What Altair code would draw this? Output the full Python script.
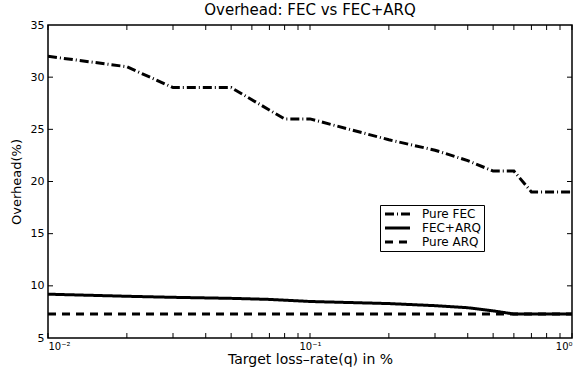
import altair as alt
import pandas as pd

# ---- data ----
q_fec = [0.01, 0.02, 0.03, 0.05, 0.08, 0.1, 0.2, 0.3, 0.4, 0.5, 0.6, 0.7, 1.0]
pure_fec = [32, 31, 29, 29, 26, 26, 24, 23, 22, 21, 21, 19, 19]

q_fa = [0.01, 0.02, 0.03, 0.05, 0.07, 0.1, 0.2, 0.3, 0.4, 0.5, 0.6, 0.7, 1.0]
fec_arq = [9.2, 9.0, 8.9, 8.8, 8.7, 8.5, 8.3, 8.1, 7.9, 7.6, 7.3, 7.3, 7.3]

q_arq = [0.01, 0.1, 1.0]
pure_arq = [7.3, 7.3, 7.3]

series_names = ["Pure FEC", "FEC+ARQ", "Pure ARQ"]

x_major = [0.01, 0.1, 1.0]
x_minor = [0.02, 0.03, 0.04, 0.05, 0.06, 0.07, 0.08, 0.09,
           0.2, 0.3, 0.4, 0.5, 0.6, 0.7, 0.8, 0.9]
y_ticks = [5, 10, 15, 20, 25, 30, 35]
y_inner = [10, 15, 20, 25, 30]

W, H = 524, 313
FONT = "DejaVu Sans"

rows = []
for q, v in zip(q_fec, pure_fec):
    rows.append({"q": q, "v": v, "s": "Pure FEC"})
for q, v in zip(q_fa, fec_arq):
    rows.append({"q": q, "v": v, "s": "FEC+ARQ"})
for q, v in zip(q_arq, pure_arq):
    rows.append({"q": q, "v": v, "s": "Pure ARQ"})
df = pd.DataFrame(rows)

xscale = alt.Scale(type="log", domain=[0.01, 1.0], nice=False)
yscale = alt.Scale(domain=[5, 35], nice=False, zero=False)

xaxis = alt.Axis(values=x_major, ticks=False, domain=False, grid=False,
                 labelExpr="datum.value == 0.01 ? '10⁻²' : datum.value == 0.1 ? '10⁻¹' : '10⁰'",
                 labelPadding=3, labelFontSize=10, labelColor="black", labelFont=FONT,
                 title="Target loss\u2013rate(q) in %", titleFontSize=14, titleFont=FONT,
                 titleFontWeight="normal", titlePadding=1, titleColor="black")
yaxis = alt.Axis(values=y_ticks, ticks=False, domain=False, grid=False,
                 labelPadding=4, labelFontSize=11, labelColor="black", labelFont=FONT,
                 title="Overhead(%)", titleFontSize=13, titleFontWeight="normal", titleFont=FONT,
                 titlePadding=7, titleColor="black")

lines = alt.Chart(df).mark_line(strokeWidth=3, color="black", clip=True).encode(
    x=alt.X("q:Q", scale=xscale, axis=xaxis),
    y=alt.Y("v:Q", scale=yscale, axis=yaxis),
    strokeDash=alt.StrokeDash("s:N",
        scale=alt.Scale(domain=series_names, range=[[9, 3, 1, 3], [1, 0], [8, 6]]),
        legend=alt.Legend(title=None, orient="none", legendX=332, legendY=180,
                          symbolType="M-1,0H5.25", symbolStrokeWidth=3, symbolSize=64,
                          symbolStrokeColor="black", labelFontSize=12, labelColor="black",
                          labelFont=FONT,
                          strokeColor="black", fillColor="white", padding=3,
                          rowPadding=2, labelOffset=27)),
    order=alt.Order("q:Q"),
)

xt = pd.DataFrame({"q": x_major + x_minor})
yt = pd.DataFrame({"v": y_inner})

xb = alt.Chart(xt).mark_rule(color="black", strokeWidth=1).encode(
    x=alt.X("q:Q", scale=xscale, axis=xaxis), y=alt.value(H), y2=alt.value(H - 5))
xtop = alt.Chart(xt).mark_rule(color="black", strokeWidth=1).encode(
    x=alt.X("q:Q", scale=xscale, axis=xaxis), y=alt.value(0), y2=alt.value(5))
yl = alt.Chart(yt).mark_rule(color="black", strokeWidth=1).encode(
    y=alt.Y("v:Q", scale=yscale, axis=yaxis), x=alt.value(0), x2=alt.value(5))
yr = alt.Chart(yt).mark_rule(color="black", strokeWidth=1).encode(
    y=alt.Y("v:Q", scale=yscale, axis=yaxis), x=alt.value(W), x2=alt.value(W - 5))

chart = alt.layer(lines, xb, xtop, yl, yr).properties(
    width=W, height=H,
    title=alt.TitleParams("Overhead: FEC vs FEC+ARQ", fontSize=15, fontWeight="normal",
                          font=FONT, anchor="middle", offset=1, color="black"),
    autosize=alt.AutoSizeParams(type="none"),
    padding={"left": 48, "top": 25, "right": 11, "bottom": 33},
).configure(font=FONT, background="white").configure_view(
    stroke="black", strokeWidth=1.5)

chart.save("out.html", embed_options={"renderer": "svg", "actions": False})
